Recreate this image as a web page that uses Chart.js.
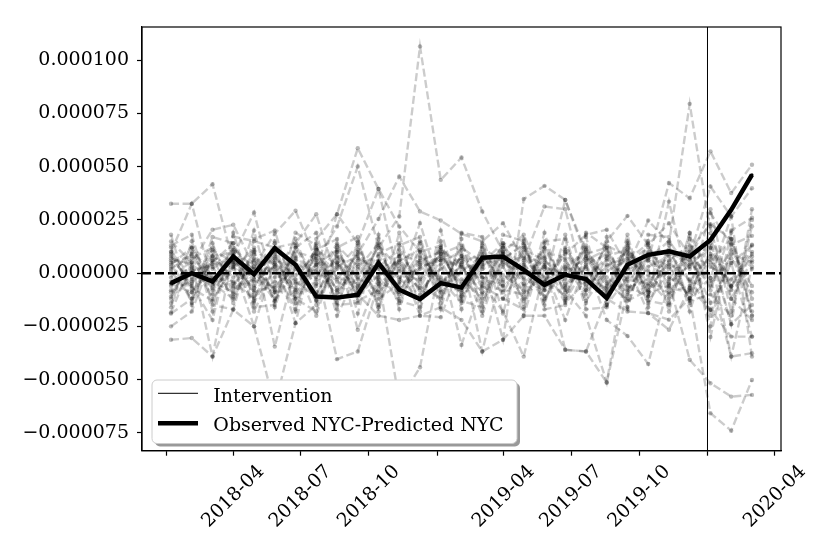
<!DOCTYPE html>
<html lang="en">
<head>
  <meta charset="UTF-8" />
  <title>Observed NYC - Predicted NYC, placebo gaps</title>
  <script src="https://cdn.jsdelivr.net/npm/chart.js"></script>
  <style>
    html, body { margin: 0; padding: 0; background: #fff; }
    #wrap { width: 830px; height: 554px; position: relative; }
  </style>
</head>
<body>
  <div id="wrap"><canvas id="gapChart"></canvas></div>

  <script>
    // 4-weekly periods
    const periodDates = [
      "2018-01-07", "2018-02-04", "2018-03-04", "2018-04-01", "2018-04-29", "2018-05-27",
      "2018-06-24", "2018-07-22", "2018-08-19", "2018-09-16", "2018-10-14", "2018-11-11",
      "2018-12-09", "2019-01-06", "2019-02-03", "2019-03-03", "2019-03-31", "2019-04-28",
      "2019-05-26", "2019-06-23", "2019-07-21", "2019-08-18", "2019-09-15", "2019-10-13",
      "2019-11-10", "2019-12-08", "2020-01-05", "2020-02-02", "2020-03-01"
    ];
    const interventionDate = "2020-01-01";
    const tickDates = [
      "2018-01-01", "2018-04-01", "2018-07-01", "2018-10-01", "2019-01-01",
      "2019-04-01", "2019-07-01", "2019-10-01", "2020-01-01", "2020-04-01"
    ];
    const tickLabels = ["", "2018-04", "2018-07", "2018-10", "", "2019-04", "2019-07", "2019-10", "", "2020-04"];
    const yTickValues = [-75, -50, -25, 0, 25, 50, 75, 100]; // x 1e-6
    const UNIT = 1e-6;

    // values below are in units of 1e-6
    const observedGap = [-4.7, 0.0, -3.9, 7.8, -0.5, 11.7, 3.9, -11.0, -11.5, -10.2, 4.7, -7.8, -12.2, -4.7,
      -6.8, 7.2, 7.8, 1.5, -5.5, -0.8, -2.8, -11.7, 3.9, 8.6, 10.2, 7.8, 15.6, 29.7, 46.2];

    const placebo01 = [32.6, 32.6, 41.8, 5, -8, 10, -12, 3, -40.4, -36.8, -5, 8, -2, 12, -10, 6, -31.3, 34.8, 41.0, 34.4, 8, -6, 12, -10, 4, -11.7, -65.8, -74, -50.2];
    const placebo02 = [-31.3, -30.5, -39.2, -17.2, -25, -62, -23.5, 16, 27.7, 58.7, 39.5, 21.9, 10, -6, 8, -36.8, 3, -12, 5, -36, -36.8, -51.4, -8, 6, 42.3, 35.2, 57.2, 37.6, 50.9];
    const placebo03 = [14.9, 5, 20.4, 22.7, 3, 18.5, 29.3, 6, 21.9, 50.1, 12, 26.6, 106.5, 43.8, 54.3, 29.0, 10, 18, -4, 9, 18, 20.4, 3, 24.7, 14.1, 79.5, 18.8, -6.3, 7.8];
    const placebo04 = [-25, -18, 8, -14, 12, -34.5, 4, -20, 10, -26.6, -2, -60, -44.2, 6, -33.7, -5, -18, -39.2, 2, -22, 5, -22, -29.5, -42.7, -4, -40.7, -51.7, -58, -57.2];
    const placebo05 = [8, -6, -22, 17.2, 15, 12, 14, 27.7, -3, 9, 25.4, 45.4, 29, 24.7, 18.5, 14.9, 23.5, 6, 31.3, 30, -8, 15, 26.9, 13.3, 23.5, 7.8, 40.7, 26.6, 39.9];
    const placebo06 = [-12, 10, -8, 4, -25, 6, -23.5, -15, 5, -10, -20, -22, -20, -16, -22, -36.8, -31.3, -20, -20, -36, -36.8, -12, -18, -18.8, -21.9, -11.7, -2.3, -39.2, -37.6];
    const placebo07 = [10, 32.6, -6, 8, 28.5, -9, 12, -5, 27.7, 14, 39.5, -4, 23.5, -8, 12, 5, 14, 12, -6, 34.4, 10, -8, 15, -11, 33.6, -7, 28.2, 13.3, 17.5];
    const placebo08 = [-18.5, 5, -39.2, 10, -18, 3, -18, 14, -20, 0, -15, 8, -20, -20.7, 6, -20, 9, -20, 12, -8, -20, -51.4, 4, -18.8, -26.6, -7, -17.2, -29.8, -29.8];
    const placebo09 = [3, -5, 8, -2, 6, -9, 4, 1, -7, 10, -3, 5, -8, 2, 7, -4, 9, -6, 3, -1, 8, -10, 2, 6, -5, 4, 12, -6, 9];
    const placebo10 = [-6, 2, -10, 7, -4, 3, -8, 9, -2, -5, 6, -7, 4, -9, 1, 8, -3, 5, -11, 4, -6, 3, 10, -8, 5, -3, -17.2, 4.8, -29.8];
    const placebo11 = [10, -2, 5, 14, -6, 8, -3, 11, 4, -8, 13, 2, -4, 9, -7, 12, 5, -2, 8, -9, 6, 11, -4, 7, 15, 2, 6.3, -6.3, 13.3];
    const placebo12 = [-2, 12, -4, -9, 5, -12, 7, -6, 13, 3, -10, 6, 11, -5, 8, -2, -9, 7, -4, 12, -3, -7, 9, 1, -12, 18.8, -2.3, 26.6, -39.2];
    const placebo13 = [5, 8, -12, 3, -7, 15, -5, 4, -11, 7, 2, -14, 6, 10, -8, 3, 12, -5, 7, -13, 4, 9, -6, -11, 10, -4, 8, -39.2, 3];
    const placebo14 = [-8, -4, 3, -11, 9, -2, 16, -9, 2, 13, -6, 4, -12, 7, 3, -10, 6, 14, -8, 2, 11, -5, -12, 8, -3, 11, 23, 16, -12];
    const placebo15 = [1, -12, 6, 2, -14, 5, -7, 12, -9, 4, 8, -3, 15, -11, 5, 9, -6, 2, -13, 6, -8, 4, 7, -14, 2, 8, -14, 4.8, 13];
    const placebo16 = [7, 4, -3, -6, 10, -13, 2, -10, 8, -2, 12, -8, 3, 6, -12, 2, -4, 11, 6, -3, 13, -15, -2, 10, -9, -6, 5, 16, -18];
    const placebo17 = [-11, 7, 12, -5, 3, 9, -14, 5, -4, -9, 3, 11, -6, -12, 9, -7, 14, -3, -8, 10, -2, 6, -10, 3, 8, -13, -10, -20, 22];
    const placebo18 = [12, -9, 2, 9, -11, -4, 8, -2, 14, -13, -8, 9, 5, -3, -14, 13, -8, -10, 12, -5, 3, -11, 13, -6, 11, 3, 14, -12, -22];
    const placebo19 = [-4, 3, -7, 12, 2, -8, -11, 8, -14, 6, -12, -5, 10, 13, -3, -12, 4, 8, -2, -11, 9, 12, -7, -3, -14, 9, -20, 9, 5];
    const placebo20 = [6, -14, 10, -7, -3, 11, 3, -13, 5, -6, 9, 14, -10, 4, 11, -6, -12, 3, 10, 7, -13, 1, 6, 14, -7, -9, 9, -24, -15];
    const placebo21 = [-14, 1, 4, 6, -9, -6, 10, 7, -12, 11, -4, -9, 8, -2, -9, 6, 10, -13, 4, -7, 12, -4, -13, -8, 6, 13, -8, 20, 26];
    const placebo22 = [9, -7, -13, 3, 11, 4, -4, -11, 10, -3, 5, -2, -13, 11, 4, -14, 7, 13, -12, 3, -4, 8, 11, -1, -10, 5, 30, -12, 6];
    const placebo23 = [2, 9, -5, -12, 7, 1, -9, 4, 11, -7, 6, -10, 2, 8, -5, 10, -1, -8, 14, -6, 2, -9, 5, 12, -2, -8, 3, -3, 10];
    const placebo24 = [-9, -3, 11, 5, -2, -7, 6, -13, 3, 8, -9, 1, -7, 12, -11, 4, 7, -9, -5, 11, -10, 7, -3, -5, 9, 6, -6, 11, -6];
    const placebo25 = [4, 12, -2, -4, -12, 7, -1, 9, -8, 2, 14, -12, 7, -4, 3, -9, 12, 4, -7, 1, 7, -2, -9, 9, 3, -12, 16, -8, 2];
    const placebo26 = [-5, -9, 6, 11, 1, -13, 13, -3, 7, -11, -1, 6, -3, 9, 13, -2, -6, 10, 3, -14, -4, 13, 8, -9, -6, 10, -4, 7, -9];
    const placebo27 = [18, -15, 14, -10, 20, -16, 12, 19, -17, 15, -18, 13, 17, -14, 16, -18, 13, -16, 19, -12, 17, -15, 18, -16, 13, -14, 22, -18, 25];
    const placebo28 = [-16, 15, -18, 19, -13, 14, -17, 11, 16, -19, 18, -13, -16, 15, -17, 14, -19, 16, -15, 18, -14, 17, -16, 15, -18, 16, -25, 19, -20];
    const placebo29 = [13, 18, -15, -17, 16, 20, -12, -18, 12, 17, -16, 19, -18, 20, -13, -16, 18, 15, -17, -15, 19, 12, -17, 18, 17, -18, 12, -24, 30];
    const placebo30 = [-19, -12, 17, 14, -16, -15, 19, 13, -15, -14, 16, -17, 14, -17, 19, 17, -12, -17, 15, 16, -17, -16, 14, -13, -15, 19, -30, 14, -20];

    const placeboGaps = [placebo01, placebo02, placebo03, placebo04, placebo05, placebo06, placebo07,
      placebo08, placebo09, placebo10, placebo11, placebo12, placebo13, placebo14, placebo15, placebo16,
      placebo17, placebo18, placebo19, placebo20, placebo21, placebo22, placebo23, placebo24, placebo25,
      placebo26, placebo27, placebo28, placebo29, placebo30];

    // x axis = days since 2018-01-01
    const DAY0 = Date.parse("2018-01-01");
    const toDay = s => (Date.parse(s) - DAY0) / 86400000;
    const xDays = periodDates.map(toDay);
    const xPad = 0.05 * (xDays[xDays.length - 1] - xDays[0]);
    const xMin = xDays[0] - xPad;
    const xMax = xDays[xDays.length - 1] + xPad;
    const tickDays = tickDates.map(toDay);
    const interventionDay = toDay(interventionDate);

    const FONT = "'DejaVu Serif', 'Liberation Serif', serif";
    const FONT_SIZE = 19;

    const toPoints = arr => arr.map((v, i) => ({ x: xDays[i], y: v * UNIT }));

    const datasets = placeboGaps.map(arr => ({
      data: toPoints(arr),
      borderColor: "rgba(0,0,0,0.2)",
      borderWidth: 2.4,
      borderDash: [8, 3.5],
      pointRadius: 2.2,
      pointBorderWidth: 0,
      pointBackgroundColor: "rgba(0,0,0,0.27)",
      tension: 0
    }));
    datasets.push({
      label: "Observed NYC-Predicted NYC",
      data: toPoints(observedGap),
      borderColor: "#000",
      borderWidth: 4.5,
      pointRadius: 1.5,
      pointBorderWidth: 0,
      pointBackgroundColor: "#000",
      tension: 0
    });

    function fmtY(v) {
      const s = (Math.round(v / UNIT) * UNIT).toFixed(6);
      return s.replace("-", "\u2212");
    }

    // zero line, intervention, frame, rotated date labels, legend
    const decorations = {
      id: "decorations",
      afterDatasetsDraw(chart) {
        const { ctx, chartArea: a, scales } = chart;
        const y0 = scales.y.getPixelForValue(0);
        const xi = scales.x.getPixelForValue(interventionDay);
        ctx.save();
        ctx.strokeStyle = "#000";
        ctx.lineWidth = 1;
        ctx.beginPath();
        ctx.moveTo(xi, a.top);
        ctx.lineTo(xi, a.bottom);
        ctx.stroke();

        ctx.lineWidth = 2.5;
        ctx.setLineDash([9, 4]);
        ctx.beginPath();
        ctx.moveTo(a.left, y0);
        ctx.lineTo(a.right, y0);
        ctx.stroke();
        ctx.restore();
      },
      afterDraw(chart) {
        const { ctx, chartArea: a, scales } = chart;
        ctx.save();
        ctx.strokeStyle = "#000";
        ctx.lineWidth = 1.2;
        ctx.strokeRect(a.left, a.top, a.right - a.left, a.bottom - a.top);

        ctx.fillStyle = "#000";
        ctx.font = FONT_SIZE + "px " + FONT;
        ctx.textAlign = "center";
        ctx.textBaseline = "middle";
        tickDays.forEach((d, i) => {
          if (!tickLabels[i]) return;
          const x = scales.x.getPixelForValue(d);
          ctx.save();
          ctx.translate(x, a.bottom + 46);
          ctx.rotate(-Math.PI / 4);
          ctx.fillText(tickLabels[i], 0, 0);
          ctx.restore();
        });

        // legend
        const lx = 152, ly = 380, lw = 365, lh = 63.5;
        ctx.fillStyle = "rgba(0,0,0,0.4)";
        ctx.beginPath();
        ctx.roundRect(lx + 3, ly + 3, lw, lh, 5);
        ctx.fill();
        ctx.fillStyle = "#fff";
        ctx.strokeStyle = "#ccc";
        ctx.lineWidth = 1;
        ctx.beginPath();
        ctx.roundRect(lx, ly, lw, lh, 5);
        ctx.fill();
        ctx.stroke();

        ctx.strokeStyle = "#000";
        ctx.lineWidth = 1;
        ctx.beginPath();
        ctx.moveTo(158, 393.3);
        ctx.lineTo(198, 393.3);
        ctx.stroke();
        ctx.lineWidth = 4.5;
        ctx.beginPath();
        ctx.moveTo(158, 423.3);
        ctx.lineTo(198, 423.3);
        ctx.stroke();

        ctx.fillStyle = "#000";
        ctx.textAlign = "left";
        ctx.textBaseline = "alphabetic";
        ctx.fillText("Intervention", 213.3, 401.7);
        ctx.fillText("Observed NYC-Predicted NYC", 213.3, 430.5);
        ctx.restore();
      }
    };

    const gapChart = new Chart(document.getElementById("gapChart"), {
      type: "line",
      data: { datasets: datasets },
      plugins: [decorations],
      options: {
        responsive: true,
        maintainAspectRatio: false,
        animation: false,
        layout: { padding: { top: 27, right: 49, left: 0, bottom: 0 } },
        plugins: { legend: { display: false }, tooltip: { enabled: false } },
        scales: {
          x: {
            type: "linear",
            min: xMin,
            max: xMax,
            afterBuildTicks: scale => { scale.ticks = tickDays.map(v => ({ value: v })); },
            afterFit: scale => { scale.height = 103.3; },
            ticks: { display: false },
            grid: { drawOnChartArea: false, drawTicks: true, tickLength: 5, tickColor: "#000", tickWidth: 1.2 },
            border: { display: true, color: "#000", width: 1.2 }
          },
          y: {
            min: -83.4 * UNIT,
            max: 115.6 * UNIT,
            afterBuildTicks: scale => { scale.ticks = yTickValues.map(v => ({ value: v * UNIT })); },
            afterFit: scale => { scale.width = 142; },
            ticks: {
              color: "#000",
              padding: 8,
              font: { family: FONT, size: FONT_SIZE },
              callback: v => fmtY(v)
            },
            grid: { drawOnChartArea: false, drawTicks: true, tickLength: 5, tickColor: "#000", tickWidth: 1.2 },
            border: { display: true, color: "#000", width: 1.2 }
          }
        }
      }
    });
  </script>
</body>
</html>
